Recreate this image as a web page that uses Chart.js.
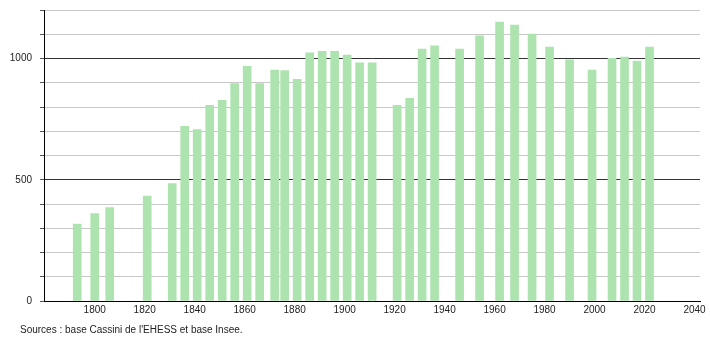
<!DOCTYPE html>
<html>
<head>
<meta charset="utf-8">
<script src="https://cdn.jsdelivr.net/npm/chart.js@4/dist/chart.umd.min.js"></script>
<style>
  html, body { margin: 0; padding: 0; background: #fff; }
  #wrap { position: relative; width: 710px; height: 340px; }
  #source {
    position: absolute; left: 20px; top: 324px;
    font-family: "Liberation Sans", Arial, sans-serif; font-size: 10px; color: #222;
  }
</style>
</head>
<body>
<div id="wrap">
  <canvas id="graf" width="710" height="340"></canvas>
  <div id="source">Sources : base Cassini de l'EHESS et base Insee.</div>
</div>
<script>
// annees de recensement et population
const annees = [1793, 1800, 1806, 1821, 1831, 1836, 1841, 1846, 1851, 1856, 1861, 1866, 1872, 1876, 1881,
  1886, 1891, 1896, 1901, 1906, 1911, 1921, 1926, 1931, 1936, 1946, 1954, 1962, 1968, 1975, 1982,
  1990, 1999, 2007, 2012, 2017, 2022];
const population = [317, 361, 385, 433, 484, 720, 707, 807, 828, 897, 968, 897, 952, 950, 914,
  1023, 1030, 1030, 1014, 982, 982, 807, 836, 1039, 1052, 1039, 1094, 1150, 1138, 1101, 1047,
  995, 952, 1001, 1006, 989, 1047];
const ticksX = [1800, 1820, 1840, 1860, 1880, 1900, 1920, 1940, 1960, 1980, 2000, 2020, 2040];
const ticksYlabel = [0, 500, 1000];

const fuente = { family: "'Liberation Sans', Arial, sans-serif", size: 10 };

const puntos = [];
for (var i = 0; i < annees.length; i++) {
  puntos.push({ x: annees[i], y: population[i] });
}

new Chart(document.getElementById('graf').getContext('2d'), {
  type: 'bar',
  data: {
    datasets: [{
      data: puntos,
      backgroundColor: '#ade3ae',
      borderWidth: 0,
      barThickness: 8
    }]
  },
  options: {
    responsive: false,
    animation: false,
    layout: { padding: { left: 0, right: 10, top: 10, bottom: 0 } },
    plugins: { legend: { display: false }, tooltip: { enabled: false } },
    scales: {
      x: {
        type: 'linear',
        min: 1779.7,
        max: 2042.2,
        offset: false,
        afterBuildTicks: function(scale) {
          scale.ticks = ticksX.map(function(v) { return { value: v }; });
        },
        afterFit: function(scale) {
          scale.height = 39;
          scale.paddingLeft = 0;
          scale.paddingRight = 0;
        },
        grid: { display: false, drawTicks: false },
        border: { color: '#000', width: 1 },
        ticks: { font: fuente, color: '#222', padding: 3, maxRotation: 0, autoSkip: false,
          callback: function(v) { return String(v); } }
      },
      y: {
        min: 0,
        max: 1200,
        afterFit: function(scale) {
          scale.width = 44;
          scale.paddingTop = 0;
          scale.paddingBottom = 0;
        },
        grid: {
          color: function(c) {
            var v = c.tick.value;
            return (v === 500 || v === 1000) ? '#333' : '#c8c8c8';
          },
          tickColor: '#555',
          tickLength: 4
        },
        border: { color: '#000', width: 1 },
        ticks: {
          stepSize: 100, font: fuente, color: '#222', padding: 8,
          callback: function(v) { return ticksYlabel.indexOf(v) >= 0 ? String(v) : ''; }
        }
      }
    }
  }
});
</script>
</body>
</html>
